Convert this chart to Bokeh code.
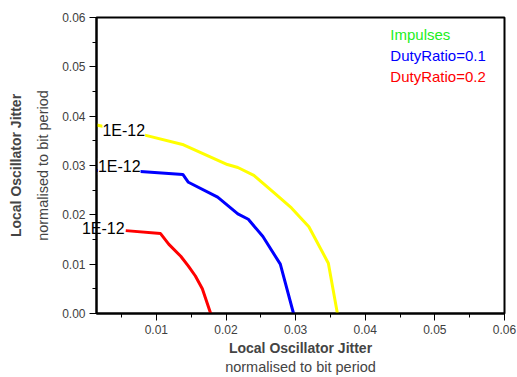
from bokeh.plotting import figure
from bokeh.models import Range1d, FixedTicker, NumeralTickFormatter, Label, Title
from bokeh.embed import file_html
from bokeh.resources import INLINE

# --- data ---
impulses_x = [0.0014, 0.0082, 0.0139, 0.0202, 0.0217, 0.0240, 0.0268, 0.0294, 0.0319, 0.0347, 0.0360]
impulses_y = [0.0382, 0.0362, 0.0342, 0.0302, 0.0296, 0.0280, 0.0246, 0.0214, 0.0176, 0.0102, 0.0]

duty01_x = [0.0014, 0.0077, 0.0138, 0.0146, 0.0188, 0.0217, 0.0232, 0.0253, 0.0278, 0.0297]
duty01_y = [0.0290, 0.0288, 0.0282, 0.0266, 0.0236, 0.0202, 0.0191, 0.0156, 0.0100, 0.0]

duty02_x = [0.0056, 0.0106, 0.0118, 0.0135, 0.0146, 0.0156, 0.0166, 0.0178]
duty02_y = [0.0168, 0.0162, 0.0140, 0.0116, 0.0096, 0.0076, 0.0050, 0.0]

series_names = ["Impulses", "DutyRatio=0.1", "DutyRatio=0.2"]
series_colors = ["#ffff00", "#0000ff", "#ff0000"]
legend_colors = ["#22ee22", "#0000ff", "#ff0000"]
ber_label = "1E-12"

x_ticks = [0.01, 0.02, 0.03, 0.04, 0.05, 0.06]
y_ticks = [0.00, 0.01, 0.02, 0.03, 0.04, 0.05, 0.06]
minor_ticks = [0.005, 0.015, 0.025, 0.035, 0.045, 0.055]

FONT = "Liberation Sans"

p = figure(width=517, height=375, output_backend="svg", toolbar_location=None,
           x_range=Range1d(0.0014, 0.06), y_range=Range1d(0.0, 0.06),
           min_border_left=96, min_border_right=13, min_border_top=13, min_border_bottom=62)
p.frame_width = 408
p.frame_height = 296
p.grid.visible = False
p.background_fill_color = "white"
p.border_fill_color = "white"
p.outline_line_color = "black"
p.outline_line_width = 2

for ax, ticks in ((p.xaxis[0], x_ticks), (p.yaxis[0], y_ticks)):
    ax.ticker = FixedTicker(ticks=ticks, minor_ticks=minor_ticks)
    ax.formatter = NumeralTickFormatter(format="0.00")
    ax.major_tick_out = 7
    ax.major_tick_in = 0
    ax.minor_tick_out = 4
    ax.minor_tick_in = 0
    ax.axis_line_width = 2
    ax.major_tick_line_width = 1
    ax.major_label_text_font = FONT
    ax.major_label_text_font_size = "12px"
    ax.major_label_text_color = "#404040"
    ax.major_label_standoff = 4

xs = [impulses_x, duty01_x, duty02_x]
ys = [impulses_y, duty01_y, duty02_y]
for x, y, c in zip(xs, ys, series_colors):
    p.line(x, y, line_color=c, line_width=3)

# "1E-12" labels near the start of each curve
label_pos = [(0.00225, 0.0370), (0.00160, 0.0298)]
for (lx, ly) in label_pos:
    p.add_layout(Label(x=lx, y=ly, text=ber_label, text_font=FONT, text_font_size="16px",
                       text_baseline="middle", text_color="black",
                       background_fill_color="white", level="glyph"))
# the third label sticks out past the left axis: put it in a side panel so it is not clipped
p.add_layout(Label(x=-0.00070, y=0.0172, text=ber_label, text_font=FONT, text_font_size="16px",
                   text_line_height=0.2, padding=0, text_baseline="middle",
                   text_color="black"), "above")

# legend-like texts
leg_y = [0.0566, 0.0522, 0.0480]
for name, c, ly in zip(series_names, legend_colors, leg_y):
    p.add_layout(Label(x=0.0436, y=ly, text=name, text_font=FONT, text_font_size="15px",
                       text_baseline="middle", text_color=c))

# axis titles
p.add_layout(Title(text="Local Oscillator Jitter", align="center", text_font=FONT,
                   text_font_size="14px", text_font_style="bold", standoff=2), "below")
p.add_layout(Title(text="normalised to bit period", align="center", text_font=FONT,
                   text_font_size="14.5px", text_font_style="normal", standoff=0), "below")
p.add_layout(Title(text="normalised to bit period", align="center", text_font=FONT,
                   text_font_size="14.5px", text_font_style="normal", standoff=18), "left")
p.add_layout(Title(text="Local Oscillator Jitter", align="center", text_font=FONT,
                   text_font_size="14px", text_font_style="bold", standoff=0), "left")

open("out.html", "w").write(file_html(p, INLINE))
